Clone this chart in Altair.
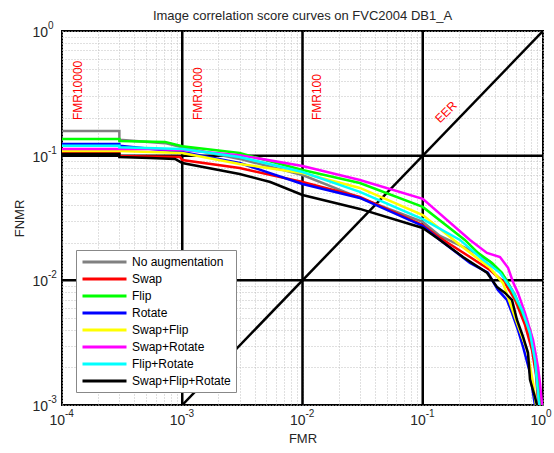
import altair as alt
import pandas as pd

SERIES = ["No augmentation", "Swap", "Flip", "Rotate", "Swap+Flip",
          "Swap+Rotate", "Flip+Rotate", "Swap+Flip+Rotate"]
COLORS = ["#808080", "#ff0000", "#00ff00", "#0000ff", "#ffff00",
          "#ff00ff", "#00ffff", "#000000"]

gray_fmr = [1e-4, 3.0e-4, 3.0e-4, 7.2e-4, 1e-3, 3e-3, 1e-2, 0.03, 0.1, 0.139, 0.247, 0.362, 0.483, 0.585, 0.708, 0.810, 0.875, 0.927, 0.962]
gray_fnmr = [0.158, 0.158, 0.134, 0.126, 0.117, 0.0942, 0.0700, 0.0458, 0.0294, 0.0227, 0.0175, 0.0141, 0.0105, 0.00764, 0.00481, 0.00303, 0.00191, 0.0012, 0.001]

red_fmr = [1e-4, 3.0e-4, 3.0e-4, 9.6e-4, 1e-3, 3e-3, 1e-2, 0.03, 0.1, 0.139, 0.247, 0.362, 0.483, 0.585, 0.708, 0.810, 0.875, 0.908, 0.927]
red_fnmr = [0.105, 0.105, 0.0995, 0.0977, 0.0923, 0.0796, 0.0615, 0.0467, 0.0278, 0.0219, 0.0154, 0.0121, 0.0095, 0.00697, 0.00439, 0.00277, 0.00174, 0.0011, 0.001]

green_fmr = [1e-4, 3.0e-4, 3.0e-4, 7.2e-4, 1e-3, 3e-3, 1e-2, 0.03, 0.1, 0.224, 0.288, 0.377, 0.456, 0.532, 0.644, 0.78, 0.857, 0.908, 0.944, 0.962]
green_fnmr = [0.136, 0.136, 0.131, 0.129, 0.119, 0.105, 0.0767, 0.0604, 0.0388, 0.0211, 0.0166, 0.0138, 0.0115, 0.00885, 0.00612, 0.0040, 0.00262, 0.00181, 0.00104, 0.001]

blue_fmr = [1e-4, 3.0e-4, 3.0e-4, 1e-3, 3e-3, 1e-2, 0.03, 0.1, 0.139, 0.247, 0.348, 0.422, 0.501, 0.552, 0.619, 0.683, 0.78, 0.826, 0.857]
blue_fnmr = [0.124, 0.124, 0.120, 0.107, 0.0874, 0.0593, 0.0458, 0.0273, 0.0211, 0.0138, 0.0115, 0.00838, 0.00697, 0.00548, 0.0040, 0.00292, 0.00181, 0.00125, 0.001]

yellow_fmr = [1e-4, 3.0e-4, 1e-3, 3e-3, 1e-2, 0.03, 0.1, 0.204, 0.362, 0.465, 0.608, 0.736, 0.826, 0.875]
yellow_fnmr = [0.109, 0.109, 0.105, 0.0858, 0.0726, 0.0551, 0.0334, 0.0192, 0.0126, 0.0095, 0.00455, 0.00277, 0.0015, 0.001]

magenta_fmr = [1e-4, 5.4e-4, 1e-3, 3e-3, 1e-2, 0.03, 0.1, 0.247, 0.342, 0.439, 0.512, 0.563, 0.619, 0.708, 0.826, 0.908, 0.944, 0.982]
magenta_fnmr = [0.113, 0.113, 0.111, 0.101, 0.0826, 0.0638, 0.0450, 0.0211, 0.0166, 0.0154, 0.0126, 0.0097, 0.00793, 0.00548, 0.00333, 0.00202, 0.0015, 0.001]

cyan_fmr = [1e-4, 3.0e-4, 3.0e-4, 1e-3, 3e-3, 1e-2, 0.03, 0.1, 0.204, 0.317, 0.439, 0.552, 0.669, 0.78, 0.857, 0.908, 0.927]
cyan_fnmr = [0.120, 0.120, 0.117, 0.113, 0.0977, 0.0740, 0.0512, 0.0310, 0.0211, 0.0146, 0.0115, 0.00838, 0.00579, 0.00378, 0.0023, 0.00125, 0.001]

black_fmr = [1e-4, 3.0e-4, 3.0e-4, 5.4e-4, 8.7e-4, 1e-3, 3e-3, 5.4e-3, 1e-2, 0.03, 0.1, 0.139, 0.216, 0.342, 0.414, 0.483, 0.552, 0.608, 0.683, 0.75, 0.78, 0.857, 0.891]
black_fnmr = [0.103, 0.103, 0.0977, 0.0959, 0.0942, 0.0874, 0.0713, 0.0615, 0.0484, 0.0374, 0.0263, 0.0211, 0.0154, 0.0115, 0.00885, 0.00793, 0.00697, 0.00481, 0.00352, 0.00262, 0.00159, 0.00116, 0.001]

CURVES = [(gray_fmr, gray_fnmr), (red_fmr, red_fnmr), (green_fmr, green_fnmr),
          (blue_fmr, blue_fnmr), (yellow_fmr, yellow_fnmr), (magenta_fmr, magenta_fnmr),
          (cyan_fmr, cyan_fnmr), (black_fmr, black_fnmr)]

ref_fmr_lines = [1e-3, 1e-2, 1e-1]
ref_fnmr_lines = [0.1, 0.01]
eer_x = [1e-3, 1.0]
eer_y = [1e-3, 1.0]

ann_text = ["FMR10000", "FMR1000", "FMR100", "EER"]
ann_x = [1.36e-4, 1.35e-3, 1.32e-2, 0.156]
ann_y = [0.193, 0.193, 0.193, 0.224]
ann_angle = [270, 270, 270, 315]
ann_align = ["left", "left", "left", "center"]

# tick labels (10 with superscript exponent)
x_decades = [1e-4, 1e-3, 1e-2, 1e-1, 1.0]
x_exps = ["-4", "-3", "-2", "-1", "0"]
y_decades = [1e-3, 1e-2, 1e-1, 1.0]
y_exps = ["-3", "-2", "-1", "0"]

rows = []
for name, (xs, ys) in zip(SERIES, CURVES):
    for i, (a, b) in enumerate(zip(xs, ys)):
        rows.append({"series": name, "idx": i, "FMR": a, "FNMR": b})
df = pd.DataFrame(rows)

grid_vals = [m * 10.0 ** e for e in range(-4, 0) for m in range(1, 10)] + [1.0]

FONT = "Liberation Sans"
TXT = "#262626"
xscale = alt.Scale(type="log", domain=[1e-4, 1], nice=False)
yscale = alt.Scale(type="log", domain=[1e-3, 1], nice=False)
xaxis = alt.Axis(values=grid_vals, labels=False, title="FMR", grid=True, ticks=False,
                 domain=False, titlePadding=27, titleFontSize=13, titleFontWeight="normal")
yaxis = alt.Axis(values=grid_vals, labels=False, title="FNMR", grid=True, ticks=False,
                 domain=False, titlePadding=36, titleFontSize=13, titleFontWeight="normal")


def X(field):
    return alt.X(field, scale=xscale, axis=xaxis, title="FMR")


def Y(field):
    return alt.Y(field, scale=yscale, axis=yaxis, title="FNMR")


base = alt.Chart(df)

vlines = alt.Chart(pd.DataFrame({"v": ref_fmr_lines})).mark_rule(color="black", strokeWidth=2.5).encode(
    x=X("v:Q"))
hlines = alt.Chart(pd.DataFrame({"v": ref_fnmr_lines})).mark_rule(color="black", strokeWidth=2.5).encode(
    y=Y("v:Q"))
diag = alt.Chart(pd.DataFrame({"a": eer_x, "b": eer_y})).mark_line(color="black", strokeWidth=2.5, clip=True).encode(
    x=X("a:Q"), y=Y("b:Q"))

ann_df = pd.DataFrame({"t": ann_text, "x": ann_x, "y": ann_y})
ann_layers = []
for i in range(len(ann_text)):
    ann_layers.append(
        alt.Chart(ann_df.iloc[[i]]).mark_text(color="red", fontSize=12, font=FONT,
                                              angle=ann_angle[i], align=ann_align[i],
                                              baseline="middle").encode(
            x=X("x:Q"), y=Y("y:Q"), text="t:N")
    )

xl_df = pd.DataFrame({"v": x_decades, "e": x_exps, "b": ["10"] * len(x_decades), "y0": [1e-3] * len(x_decades)})
yl_df = pd.DataFrame({"v": y_decades, "e": y_exps, "b": ["10"] * len(y_decades), "x0": [1e-4] * len(y_decades)})
xl_base = alt.Chart(xl_df).mark_text(font=FONT, fontSize=14, color=TXT, align="right",
                                     baseline="middle", dx=3, dy=16).encode(
    x=X("v:Q"), y=Y("y0:Q"), text="b:N")
xl_exp = alt.Chart(xl_df).mark_text(font=FONT, fontSize=10, color=TXT, align="left",
                                    baseline="middle", dx=3, dy=9).encode(
    x=X("v:Q"), y=Y("y0:Q"), text="e:N")
yl_base = alt.Chart(yl_df).mark_text(font=FONT, fontSize=14, color=TXT, align="right",
                                     baseline="middle", dx=-14, dy=2).encode(
    x=X("x0:Q"), y=Y("v:Q"), text="b:N")
yl_exp = alt.Chart(yl_df).mark_text(font=FONT, fontSize=10, color=TXT, align="left",
                                    baseline="middle", dx=-14, dy=-5).encode(
    x=X("x0:Q"), y=Y("v:Q"), text="e:N")

legend = alt.Legend(title=None, orient="none", legendX=14, legendY=219,
                    symbolType="M-1,0H7", symbolSize=121, symbolStrokeWidth=3,
                    labelFontSize=12, labelFont=FONT, labelOffset=37, rowPadding=4,
                    padding=5, strokeColor="#888888", fillColor="white", labelLimit=250,
                    labelColor="black")
cscale = alt.Scale(domain=SERIES, range=COLORS)

curve_layers = []
for name in SERIES:
    curve_layers.append(
        base.transform_filter(alt.datum.series == name).mark_line(strokeWidth=2.5, clip=True).encode(
            x=X("FMR:Q"), y=Y("FNMR:Q"),
            color=alt.Color("series:N", scale=cscale, legend=legend, sort=SERIES),
            order=alt.Order("idx:Q"),
        )
    )

chart = alt.layer(*ann_layers, vlines, hlines, diag, *curve_layers,
                  xl_base, xl_exp, yl_base, yl_exp).properties(
    width=481, height=374,
    title=alt.TitleParams("Image correlation score curves on FVC2004 DB1_A", fontSize=13,
                          fontWeight="normal", font=FONT, offset=5, dy=7, anchor="middle", color=TXT),
    autosize=alt.AutoSizeParams(type="none"),
    padding={"left": 62, "top": 31, "right": 11, "bottom": 48},
).configure_view(stroke="black", strokeWidth=2).configure_axis(
    gridColor="#c0c0c0", gridDash=[1, 2], gridWidth=1, labelFont=FONT, titleFont=FONT,
    labelColor=TXT, titleColor=TXT
)

chart.save("out.html", embed_options={"renderer": "svg", "actions": False})
